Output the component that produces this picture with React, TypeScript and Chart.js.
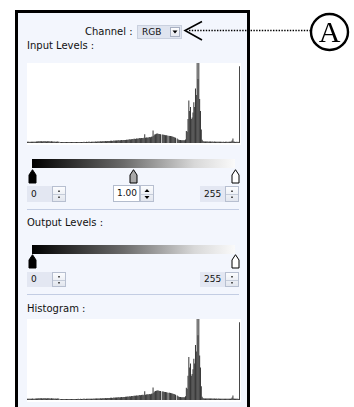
import React, { useEffect, useRef } from "react";
import { Chart, registerables } from "chart.js";

Chart.register(...registerables);

// ---- text content ----
const channelLabel = "Channel :";
const channelValue = "RGB";
const inputLevelsTitle = "Input Levels :";
const outputLevelsTitle = "Output Levels :";
const histogramTitle = "Histogram :";
const inputShadow = "0";
const inputGamma = "1.00";
const inputHighlight = "255";
const outputShadow = "0";
const outputHighlight = "255";
const calloutLabel = "A";

// ---- histogram data (256 tonal levels, relative counts, 100 = tallest) ----
const levelBins: string[] = [];
for (let i = 0; i < 256; i++) levelBins.push(String(i));

const histogramCounts: number[] = [
  1.5, 1.6, 1.5, 1.4, 1.6, 1.5, 1.7, 1.6, 1.5, 1.6,
  1.7, 1.8, 1.9, 2.2, 2.0, 2.3, 2.1, 2.2, 2.0, 2.3,
  2.1, 2.2, 2.3, 2.0, 2.2, 2.1, 2.3, 2.0, 1.9, 2.1,
  1.8, 1.7, 1.8, 1.6, 1.7, 1.6, 1.8, 1.7, 1.6, 0.4,
  1.2, 1.3, 1.2, 1.1, 1.3, 1.2, 1.2, 1.1, 1.3, 1.2,
  1.3, 1.2, 1.1, 1.2, 1.3, 1.2, 1.1, 1.3, 1.2, 1.3,
  1.2, 1.4, 1.3, 1.2, 1.4, 1.3, 1.2, 1.4, 1.5, 1.4,
  1.3, 1.5, 1.4, 1.5, 1.6, 1.5, 1.4, 1.6, 1.5, 1.6,
  1.7, 1.6, 1.8, 1.7, 1.9, 1.8, 2.0, 1.9, 2.1, 2.0,
  2.2, 2.1, 2.3, 2.2, 2.4, 2.3, 2.5, 2.4, 2.6, 2.5,
  2.7, 2.8, 2.6, 2.9, 3.0, 2.8, 3.1, 3.2, 3.0, 3.3,
  3.4, 3.2, 3.5, 3.6, 3.4, 3.7, 3.8, 3.6, 3.9, 4.0,
  4.2, 4.0, 4.4, 4.6, 4.3, 4.8, 5.0, 4.7, 5.2, 5.4,
  5.1, 5.5, 5.7, 5.4, 5.9, 6.1, 5.8, 6.2, 6.4, 6.0,
  6.6, 10.8, 6.5, 6.8, 7.0, 6.7, 7.2, 7.5, 7.2, 7.8,
  8.0, 15.5, 9.0, 10.5, 11.0, 11.5, 11.8, 11.6, 11.4, 11.2,
  11.0, 0, 10.6, 10.4, 10.2, 10.0, 9.8, 9.6, 9.4, 0,
  9.0, 8.8, 8.6, 8.3, 8.0, 7.7, 7.4, 7.0, 6.6, 0,
  5.5, 4.5, 4.0, 3.8, 3.6, 3.5, 3.4, 3.3, 3.4, 3.5,
  4.5, 15, 14, 30, 53, 40, 45, 30, 32, 38,
  51, 45, 68, 60, 100, 80, 100, 55, 40, 17,
  4.0, 2.5, 2.0, 1.8, 2.0, 1.9, 1.8, 2.0, 1.7, 1.8,
  1.9, 1.7, 1.8, 1.6, 1.7, 1.8, 1.6, 1.7, 1.5, 1.6,
  1.7, 1.5, 1.6, 1.5, 1.4, 1.6, 1.5, 1.4, 1.5, 1.6,
  1.5, 1.4, 1.5, 1.6, 1.5, 2.0, 3.0, 5.5, 2.0, 1.5,
  1.4, 1.5, 1.4, 1.5, 1.3, 96,
];

const UI_FONT = "'DejaVu Sans', Verdana, sans-serif";
const PANEL_BG = "#f3f6fd";

function Histogram(props: { left: number; top: number; width: number; height: number }) {
  const { left, top, width, height } = props;
  const ref = useRef<HTMLCanvasElement | null>(null);
  useEffect(() => {
    if (!ref.current) return;
    const chart = new Chart(ref.current, {
      type: "bar",
      data: {
        labels: levelBins,
        datasets: [
          {
            data: histogramCounts,
            backgroundColor: "#383838",
            borderWidth: 0,
            barPercentage: 1.2,
            categoryPercentage: 1,
          },
        ],
      },
      options: {
        animation: false,
        responsive: false,
        maintainAspectRatio: false,
        events: [],
        plugins: { legend: { display: false }, tooltip: { enabled: false } },
        layout: { padding: { left: 0, right: 1, top: 0, bottom: 2 } },
        scales: {
          x: { display: false },
          y: { display: false, min: 0, max: 100 },
        },
      },
    });
    return () => chart.destroy();
  }, []);
  return (
    <div style={{ position: "absolute", left, top, width, height, background: "#fff" }}>
      <canvas ref={ref} width={width} height={height} style={{ display: "block", width, height }} />
    </div>
  );
}

function Label(props: { left: number; top: number; text: string; size?: number }) {
  const size = props.size ?? 10;
  return (
    <div
      style={{
        position: "absolute",
        left: props.left,
        top: props.top,
        fontFamily: UI_FONT,
        fontSize: size,
        lineHeight: `${size + 2}px`,
        color: "#111",
        whiteSpace: "nowrap",
      }}
    >
      {props.text}
    </div>
  );
}

function GradientBar(props: { top: number }) {
  return (
    <div
      style={{
        position: "absolute",
        left: 32,
        top: props.top,
        width: 203,
        height: 9,
        background: "linear-gradient(to right, #000 0%, #6a6a6a 45%, #d8d8d8 80%, #fafafa 100%)",
      }}
    />
  );
}

function Marker(props: { cx: number; top: number; fill: string }) {
  return (
    <svg
      width={9}
      height={15}
      style={{ position: "absolute", left: props.cx - 4.5, top: props.top, overflow: "visible" }}
    >
      <polygon
        points="1,6 4.5,0.7 8,6 8,14 1,14"
        fill={props.fill}
        stroke="#000"
        strokeWidth={1}
        strokeLinejoin="round"
      />
    </svg>
  );
}

function SpinBox(props: {
  left: number;
  top: number;
  fieldWidth: number;
  height: number;
  text: string;
  active?: boolean;
}) {
  const { left, top, fieldWidth, height, text, active } = props;
  const half = (height - 2) / 2;
  const arrowColor = active ? "#000" : "#555";
  return (
    <div style={{ position: "absolute", left, top, height, width: fieldWidth + 14 }}>
      <div
        style={{
          position: "absolute",
          left: 0,
          top: 0,
          width: fieldWidth,
          height,
          boxSizing: "border-box",
          background: active ? "#fff" : "#e3e7f2",
          border: active ? "1px solid #b3bccd" : "1px solid #e3e7f2",
          fontFamily: UI_FONT,
          fontSize: 9,
          lineHeight: `${height - 2}px`,
          paddingLeft: 3,
          color: "#111",
        }}
      >
        {text}
      </div>
      <div
        style={{
          position: "absolute",
          left: fieldWidth,
          top: 0,
          width: 14,
          height,
          boxSizing: "border-box",
          border: "1px solid #b7bfd0",
          background: "linear-gradient(#fbfcfe, #e2e6ee)",
        }}
      >
        <div style={{ position: "absolute", left: 0, right: 0, top: half, height: 1, background: "#c5ccd9" }} />
        <svg width={12} height={height - 2} style={{ position: "absolute", left: 0, top: 0 }}>
          {active ? (
            <>
              <polygon points={`3.5,${half - 1.5} 8.5,${half - 1.5} 6,${half - 4.5}`} fill={arrowColor} />
              <polygon points={`3.5,${half + 2.5} 8.5,${half + 2.5} 6,${half + 5.5}`} fill={arrowColor} />
            </>
          ) : (
            <>
              <rect x={5} y={half - 3.5} width={2} height={1.5} fill={arrowColor} />
              <rect x={5} y={half + 2.5} width={2} height={1.5} fill={arrowColor} />
            </>
          )}
        </svg>
      </div>
    </div>
  );
}

export default function App() {
  return (
    <div
      style={{
        position: "absolute",
        left: 0,
        top: 0,
        width: 354,
        height: 407,
        overflow: "hidden",
        background: "#fff",
      }}
    >
      {/* panel */}
      <div
        style={{
          position: "absolute",
          left: 15,
          top: 10,
          width: 235,
          height: 420,
          boxSizing: "border-box",
          border: "3px solid #000",
          background: PANEL_BG,
        }}
      />

      {/* channel selector */}
      <Label left={85} top={26} text={channelLabel} />
      <div
        style={{
          position: "absolute",
          left: 137,
          top: 25,
          width: 45,
          height: 14,
          boxSizing: "border-box",
          background: "#dfe4ef",
          border: "1px solid #c9d0de",
        }}
      >
        <div
          style={{
            position: "absolute",
            left: 4,
            top: 0,
            fontFamily: UI_FONT,
            fontSize: 9,
            lineHeight: "12px",
            color: "#111",
          }}
        >
          {channelValue}
        </div>
        <div
          style={{
            position: "absolute",
            left: 32,
            top: 1,
            width: 10,
            height: 10,
            boxSizing: "border-box",
            border: "1px solid #a8b0c2",
            background: "linear-gradient(#fdfdfe, #e6e9f0)",
          }}
        >
          <svg width={8} height={8} style={{ position: "absolute", left: 0, top: 0 }}>
            <polygon points="1.5,2.5 6.5,2.5 4,5.5" fill="#000" />
          </svg>
        </div>
      </div>

      {/* input levels */}
      <Label left={27} top={40} text={inputLevelsTitle} />
      <Histogram left={27} top={63} width={214} height={82} />
      <GradientBar top={159} />
      <Marker cx={32.5} top={169} fill="#000" />
      <Marker cx={133.5} top={169} fill="#a8a8a8" />
      <Marker cx={235.5} top={169} fill="#fff" />
      <SpinBox left={27} top={186} fieldWidth={25} height={16} text={inputShadow} />
      <SpinBox left={113} top={185} fieldWidth={27} height={17} text={inputGamma} active />
      <SpinBox left={200} top={186} fieldWidth={25} height={16} text={inputHighlight} />
      <div style={{ position: "absolute", left: 27, top: 209, width: 212, height: 1, background: "#c3cde3" }} />

      {/* output levels */}
      <Label left={27} top={217} text={outputLevelsTitle} />
      <GradientBar top={245} />
      <Marker cx={32.5} top={254} fill="#000" />
      <Marker cx={235.5} top={254} fill="#fff" />
      <SpinBox left={27} top={272} fieldWidth={25} height={15} text={outputShadow} />
      <SpinBox left={200} top={272} fieldWidth={25} height={15} text={outputHighlight} />
      <div style={{ position: "absolute", left: 27, top: 294, width: 212, height: 1, background: "#c3cde3" }} />

      {/* histogram */}
      <Label left={27} top={302.5} text={histogramTitle} />
      <Histogram left={27} top={319} width={214} height={83} />

      {/* callout */}
      <svg
        width={354}
        height={407}
        style={{ position: "absolute", left: 0, top: 0, pointerEvents: "none" }}
      >
        <polyline points="202,21.5 185,30.5 202,40" fill="none" stroke="#000" strokeWidth={1.6} />
        <line x1={189} y1={30.5} x2={310} y2={30.5} stroke="#000" strokeWidth={1.4} strokeDasharray="1.4 1.4" />
        <ellipse cx={329.5} cy={32} rx={18.5} ry={18} fill="#fff" stroke="#000" strokeWidth={2.4} />
        <text
          x={329.5}
          y={42}
          textAnchor="middle"
          fontFamily="'Liberation Serif', 'Times New Roman', serif"
          fontSize={30}
          fill="#000"
        >
          {calloutLabel}
        </text>
      </svg>
    </div>
  );
}
